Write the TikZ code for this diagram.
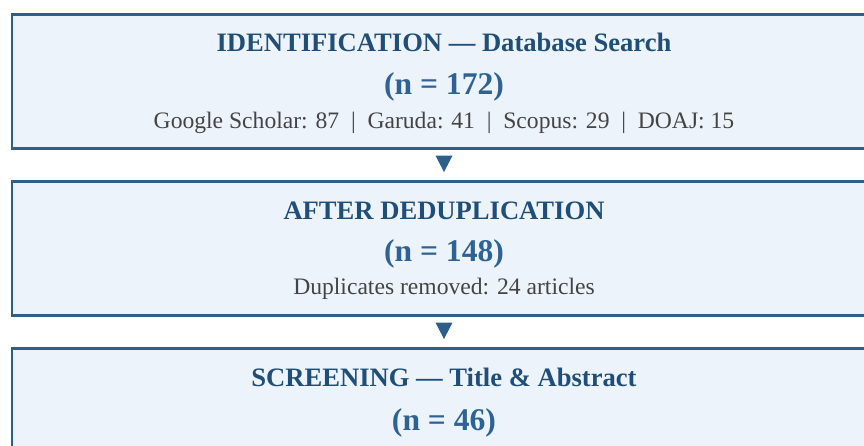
\documentclass[tikz,border=0pt]{standalone}
\usepackage{fontspec}
\setmainfont{Liberation Serif}
\usetikzlibrary{calc,shapes.geometric}

\definecolor{frameblue}{HTML}{2E5F8A}
\definecolor{boxfill}{HTML}{EDF3FB}
\definecolor{headblue}{HTML}{1F4E79}
\definecolor{countblue}{HTML}{2E6294}
\definecolor{notegray}{HTML}{444444}

\tikzset{
  x=1pt, y=1pt,
  stagebox/.style={draw=frameblue, fill=boxfill, line width=2.5pt,
    rectangle, inner sep=0pt, anchor=north west,
    minimum width=880pt, minimum height=134pt},
  headtext/.style={anchor=base, inner sep=0pt, text=headblue,
    font=\fontsize{26.6}{30}\selectfont\bfseries},
  counttext/.style={anchor=base, inner sep=0pt, text=countblue,
    font=\fontsize{31.6}{36}\selectfont\bfseries},
  notetext/.style={anchor=base, inner sep=0pt, text=notegray,
    font=\fontsize{23.6}{28}\selectfont},
  flowmark/.style={isosceles triangle, shape border rotate=-90,
    isosceles triangle stretches, fill=frameblue, draw=none,
    inner sep=0pt, minimum width=17pt, minimum height=16.5pt},
}

\newcommand{\sepbar}{\hspace{0.5em}|\hspace{0.5em}}

\begin{document}
\begin{tikzpicture}
\useasboundingbox (0,0) rectangle (864,-446);
\clip (0,0) rectangle (864,-446);

% stage boxes (right edge runs past the page)
\node[stagebox] (ident) at (10.75,-13.25) {};
\node[stagebox] (dedup) at (10.75,-180.25) {};
\node[stagebox] (screen) at (10.75,-347.25) {};

% identification
\coordinate (identtop) at (444,-13.25);
\node[headtext] (identhead) at ($(identtop)+(0,-38.5)$) {IDENTIFICATION — Database Search};
\node[counttext] (identn) at ($(identtop)+(0,-81)$) {(n = 172)};
\node[notetext] (identnote) at ($(identtop)+(0,-115)$)
  {Google Scholar: 87\sepbar Garuda: 41\sepbar Scopus: 29\sepbar DOAJ: 15};

% deduplication
\coordinate (deduptop) at (444,-180.25);
\node[headtext] (deduphead) at ($(deduptop)+(0,-39.5)$) {AFTER DEDUPLICATION};
\node[counttext] (dedupn) at ($(deduptop)+(0,-81.5)$) {(n = 148)};
\node[notetext] (dedupnote) at ($(deduptop)+(0,-114)$) {Duplicates removed: 24 articles};

% screening
\coordinate (screentop) at (444,-347.25);
\node[headtext] (screenhead) at ($(screentop)+(0,-38.75)$) {SCREENING — Title \& Abstract};
\node[counttext] (screenn) at ($(screentop)+(0,-82.75)$) {(n = 46)};

% flow markers between stages
\node[flowmark] (markA) at ($(identtop)+(0,-147.5)$) {};
\node[flowmark] (markB) at ($(deduptop)+(0,-147.5)$) {};
\end{tikzpicture}
\end{document}
